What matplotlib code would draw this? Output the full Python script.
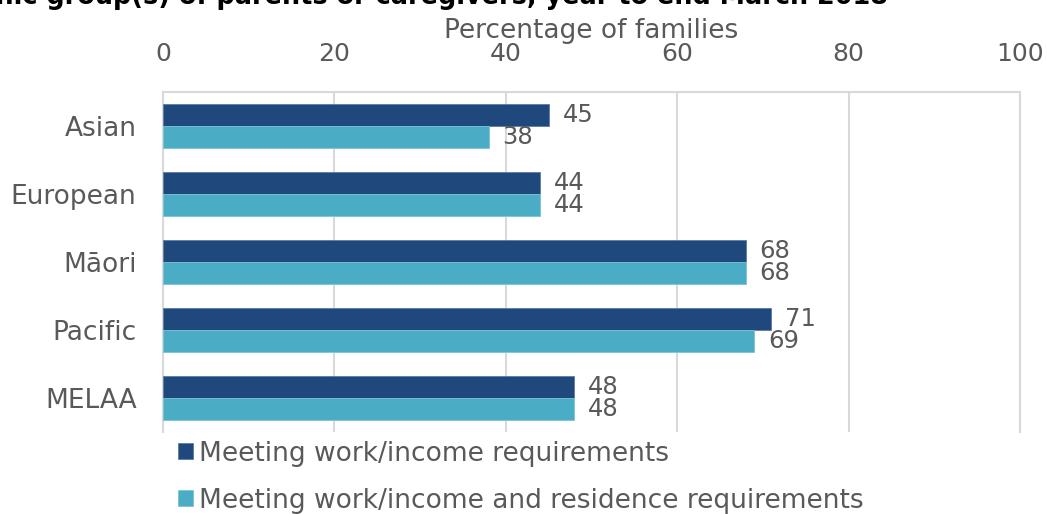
import matplotlib
matplotlib.use("Agg")
import matplotlib.pyplot as plt
import numpy as np

# Data
groups = ["Asian", "European", "Māori", "Pacific", "MELAA"]
work_income = [45, 44, 68, 71, 48]
work_income_residence = [38, 44, 68, 69, 48]
series_labels = ["Meeting work/income requirements",
                 "Meeting work/income and residence requirements"]
x_ticks = [0, 20, 40, 60, 80, 100]

DARK = "#1F497D"
LIGHT = "#4BACC6"
TEXT = "#595959"
GRID = "#D9D9D9"

plt.rcParams["font.family"] = ["DejaVu Sans"]

fig = plt.figure(figsize=(10.47, 5.14), dpi=100)
ax = fig.add_axes([163 / 1047, 1 - 432 / 514, 857 / 1047, 340 / 514])

y = np.arange(len(groups))
h = 0.33
b1 = ax.barh(y - h / 2, work_income, height=h, color=DARK,
             edgecolor="#5B7BA6", linewidth=0.6, label=series_labels[0], zorder=3)
b2 = ax.barh(y + h / 2, work_income_residence, height=h, color=LIGHT,
             edgecolor="#7CC3D6", linewidth=0.6, label=series_labels[1], zorder=3)

for bars, vals in ((b1, work_income), (b2, work_income_residence)):
    for rect, v in zip(bars, vals):
        ax.annotate(f"{v}", xy=(v, rect.get_y() + rect.get_height() / 2),
                    xytext=(10, 0), textcoords="offset points",
                    ha="left", va="center", fontsize=17.5, color=TEXT)

ax.set_xlim(0, 100)
ax.set_ylim(len(groups) - 0.5, -0.5)
ax.set_xticks(x_ticks)
ax.xaxis.tick_top()
ax.xaxis.set_label_position("top")
ax.tick_params(axis="x", length=0, pad=18.5, labelsize=18, labelcolor=TEXT)
ax.set_yticks(y)
ax.set_yticklabels(groups)
ax.tick_params(axis="y", length=0, pad=19, labelsize=19, labelcolor=TEXT)
ax.set_xlabel("Percentage of families", fontsize=19, color=TEXT, labelpad=3)

ax.grid(axis="x", color=GRID, linewidth=1.5, zorder=0)
for side in ("top", "left", "right"):
    ax.spines[side].set_color(GRID)
    ax.spines[side].set_linewidth(1.5)
ax.spines["bottom"].set_visible(False)

fig.legend(handles=[b1, b2], labels=series_labels, loc="upper left",
           bbox_to_anchor=(167 / 1047, 1 - 430 / 514), frameon=False,
           fontsize=19, labelcolor=TEXT, handlelength=0.57, handleheight=0.57,
           handletextpad=0.25, labelspacing=0.8, borderaxespad=0)

fig.text(888 / 1047, 1 - 4 / 514,
         "by ethnic group(s) of parents or caregivers, year to end March 2018",
         ha="right", va="baseline", fontsize=18.4, fontweight="bold", color="black")

fig.savefig("out.png", dpi=100)
